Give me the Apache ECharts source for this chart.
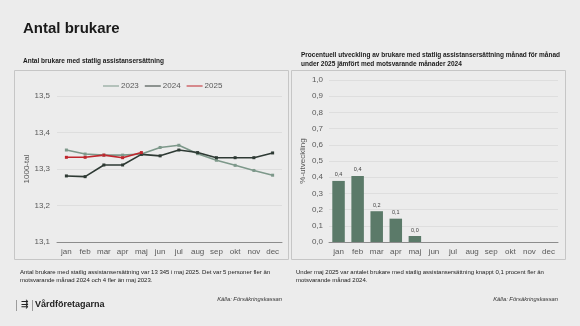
<!DOCTYPE html>
<html>
<head>
<meta charset="utf-8">
<script src="https://cdn.jsdelivr.net/npm/echarts@6/dist/echarts.min.js"></script>
<style>
  html, body { margin: 0; padding: 0; background: #ececec; }
  #chart { width: 580px; height: 326px; }
</style>
</head>
<body>
<div id="chart"></div>
<script>
// Months shown on both category axes
const months = ['jan', 'feb', 'mar', 'apr', 'maj', 'jun', 'jul', 'aug', 'sep', 'okt', 'nov', 'dec'];

// Number of clients with state assistance allowance, thousands
const users2023 = [13.352, 13.341, 13.338, 13.338, 13.341, 13.359, 13.365, 13.342, 13.324, 13.310, 13.296, 13.283];
const users2024 = [13.281, 13.279, 13.311, 13.311, 13.340, 13.336, 13.352, 13.345, 13.331, 13.331, 13.331, 13.344];
const users2025 = [13.332, 13.332, 13.338, 13.331, 13.345];

// Change versus same month previous year, percent
const changePct = [0.377, 0.408, 0.19, 0.144, 0.037];

const FONT = '"Liberation Sans", Arial, sans-serif';
const comma = (v, d) => v.toFixed(d).replace('.', ',');

const chart = echarts.init(document.getElementById('chart'), null, { renderer: 'canvas' });

const lineSeries = (name, data, color) => ({
  name, type: 'line', data,
  xAxisIndex: 0, yAxisIndex: 0,
  symbol: 'rect', symbolSize: 3,
  lineStyle: { width: 1.6, color },
  itemStyle: { color },
  emphasis: { disabled: true }
});

const axisText = { color: '#595959', fontSize: 8, fontFamily: FONT };

chart.setOption({
  animation: false,
  backgroundColor: '#ececec',
  textStyle: { fontFamily: FONT },
  title: [
    { text: 'Antal brukare', left: 18, top: 16,
      textStyle: { fontSize: 15, fontWeight: 'bold', color: '#1a1a1a', fontFamily: FONT } },
    { text: 'Antal brukare med statlig assistansersättning', left: 18, top: 53,
      textStyle: { fontSize: 6.5, fontWeight: 'bold', color: '#1a1a1a', fontFamily: FONT } },
    { text: 'Procentuell utveckling av brukare med statlig assistansersättning månad för månad\nunder 2025 jämfört med motsvarande månader 2024',
      left: 296, top: 46,
      textStyle: { fontSize: 6.5, fontWeight: 'bold', color: '#1a1a1a', fontFamily: FONT, lineHeight: 8.5 } }
  ],
  legend: {
    data: ['2023', '2024', '2025'],
    left: 98, top: 77,
    itemWidth: 16, itemHeight: 4, itemGap: 6,
    icon: 'path://M0,2 L16,2 L16,3 L0,3 Z',
    textStyle: { fontSize: 8, color: '#595959', fontFamily: FONT, padding: [0, 0, 0, -3] },
    selectedMode: false
  },
  grid: [
    { left: 57, right: 298, top: 96, bottom: 84 },
    { left: 329, right: 22, top: 80, bottom: 84 }
  ],
  xAxis: [
    { type: 'category', gridIndex: 0, data: months, boundaryGap: true,
      axisLine: { lineStyle: { color: '#8c8c8c', width: 1 } },
      axisTick: { show: false },
      axisLabel: Object.assign({ margin: 6, interval: 0 }, axisText) },
    { type: 'category', gridIndex: 1, data: months, boundaryGap: true,
      axisLine: { lineStyle: { color: '#8c8c8c', width: 1 } },
      axisTick: { show: false },
      axisLabel: Object.assign({ margin: 6, interval: 0 }, axisText) }
  ],
  yAxis: [
    { type: 'value', gridIndex: 0, min: 13.1, max: 13.5, interval: 0.1,
      name: '1000-tal', nameLocation: 'middle', nameGap: 24, nameRotate: 90,
      nameTextStyle: { fontSize: 8, color: '#595959', fontFamily: FONT },
      axisLine: { show: false }, axisTick: { show: false },
      splitLine: { lineStyle: { color: '#dadada', width: 0.8 } },
      axisLabel: Object.assign({ margin: 7, formatter: v => comma(v, 1) }, axisText) },
    { type: 'value', gridIndex: 1, min: 0, max: 1, interval: 0.1,
      name: '%-utveckling', nameLocation: 'middle', nameGap: 22, nameRotate: 90,
      nameTextStyle: { fontSize: 8, color: '#595959', fontFamily: FONT },
      axisLine: { show: false }, axisTick: { show: false },
      splitLine: { lineStyle: { color: '#dadada', width: 0.8 } },
      axisLabel: Object.assign({ margin: 6, formatter: v => comma(v, 1) }, axisText) }
  ],
  series: [
    lineSeries('2023', users2023, '#7d988a'),
    lineSeries('2024', users2024, '#2e3a34'),
    lineSeries('2025', users2025, '#c0262d'),
    { name: 'utveckling', type: 'bar', xAxisIndex: 1, yAxisIndex: 1,
      data: changePct, barWidth: 12.5,
      itemStyle: { color: '#5b7a69' },
      label: { show: true, position: 'top', distance: 3, fontSize: 5.5, color: '#404040',
        fontFamily: FONT, formatter: p => comma(p.value, 1) },
      emphasis: { disabled: true } }
  ],
  graphic: [
    // panel frames
    { type: 'rect', shape: { x: 14.5, y: 70.5, width: 274, height: 189 }, silent: true,
      style: { fill: 'none', stroke: '#c6c6c6', lineWidth: 1 } },
    { type: 'rect', shape: { x: 291.5, y: 70.5, width: 274, height: 189 }, silent: true,
      style: { fill: 'none', stroke: '#c6c6c6', lineWidth: 1 } },
    // commentary
    { type: 'text', left: 20, top: 268, silent: true,
      style: { text: 'Antal brukare med statlig assistansersättning var 13 345 i maj 2025. Det var 5 personer fler än\nmotsvarande månad 2024 och 4 fler än maj 2023.',
        font: '6px ' + FONT, fill: '#1a1a1a', lineHeight: 8.5 } },
    { type: 'text', left: 296, top: 268, silent: true,
      style: { text: 'Under maj 2025 var antalet brukare med statlig assistansersättning knappt 0,1 procent fler än\nmotsvarande månad 2024.',
        font: '6px ' + FONT, fill: '#1a1a1a', lineHeight: 8.5 } },
    // sources
    { type: 'text', right: 298, top: 296, silent: true,
      style: { text: 'Källa: Försäkringskassan', font: 'italic 5.8px ' + FONT, fill: '#333' } },
    { type: 'text', right: 22, top: 296, silent: true,
      style: { text: 'Källa: Försäkringskassan', font: 'italic 5.8px ' + FONT, fill: '#333' } },
    // footer brand
    { type: 'rect', shape: { x: 16, y: 300, width: 0.8, height: 11 }, silent: true, style: { fill: '#888' } },
    { type: 'text', left: 21, top: 300, silent: true,
      style: { text: '⇶', font: 'bold 9px "DejaVu Sans"', fill: '#222' } },
    { type: 'rect', shape: { x: 32, y: 300, width: 0.8, height: 11 }, silent: true, style: { fill: '#888' } },
    { type: 'text', left: 35, top: 300.5, silent: true,
      style: { text: 'Vårdföretagarna', font: 'bold 9px ' + FONT, fill: '#222' } }
  ]
});
</script>
</body>
</html>
